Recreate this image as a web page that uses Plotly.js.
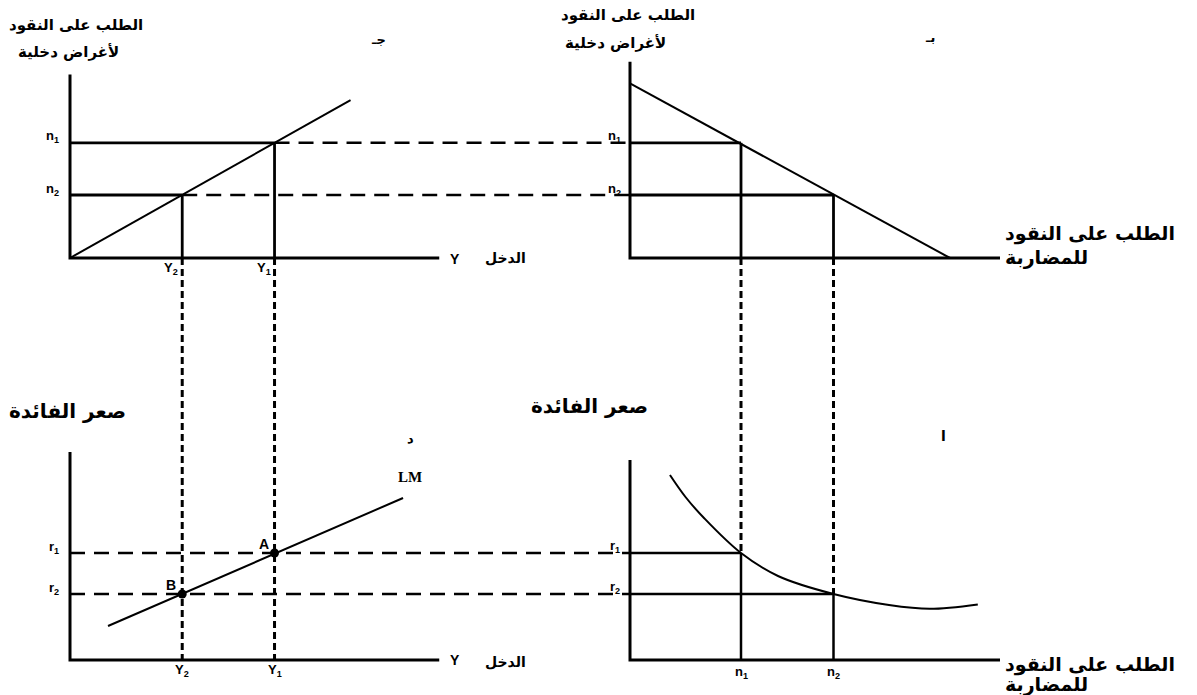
<!DOCTYPE html>
<html>
<head>
<meta charset="utf-8">
<script src="https://cdn.plot.ly/plotly-3.0.1.min.js"></script>
<style>html,body{margin:0;padding:0;background:#fff;}#chart{width:1197px;height:695px;}</style>
</head>
<body>
<div id="chart"></div>
<script>
// ---------------- DATA ----------------
// income levels Y2, Y1
const incomeLevels = [3.1, 5.65];
// transaction money demand n2, n1 (top row)
const transDemand = [3.5, 6.4];
// speculative money demand at those points n2, n1 (right column)
const specDemand = [5.5, 3.0];
// interest rates r2, r1 (bottom row)
const interestRates = [3.3, 5.35];

// panel ج : transaction demand line (income -> demand)
const transLineIncome = [0, 7.75];
const transLineDemand = [0, 8.77];
// panel ب : money split line (speculative -> transaction)
const splitLineSpec = [0, 8.65];
const splitLineTrans = [9.7, 0];
// panel د : LM curve (income -> interest)
const lmIncome = [1.05, 9.2];
const lmRate = [1.7, 8.1];
// panel ا : liquidity preference curve (speculative -> interest)
const liqSpec = [1.08, 1.5, 2.0, 3.0, 4.0, 5.5, 7.0, 8.1, 9.4];
const liqRate = [9.25, 8.15, 7.1, 5.35, 4.2, 3.3, 2.75, 2.56, 2.78];

// axis extents of each panel
const incomeAxisMax = 10.2, specAxisMax = 10;
const transAxisMaxLeft = 10.2, transAxisMaxRight = 10.9;
const rateAxisMaxLeft = 10.4, rateAxisMaxRight = 10;

// tick labels
const yLabels = ['Y<sub>2</sub>', 'Y<sub>1</sub>'];
const nLabels = ['n<sub>2</sub>', 'n<sub>1</sub>'];
const rLabels = ['r<sub>2</sub>', 'r<sub>1</sub>'];
const pointLabels = ['B', 'A'];

// ---------------- LAYOUT GEOMETRY ----------------
const W = 1197, H = 695;
const SX1 = {o: 70, s: 36.2};   // income axis (left column)
const SX2 = {o: 630, s: 37};    // speculative demand axis (right column)
const SY1 = {o: 258, s: 18};    // transaction demand axis (top row)
const SY2 = {o: 660, s: 20};    // interest axis (bottom row)
const xr = a => [(0 - a.o) / a.s, (W - a.o) / a.s];
const yr = a => [(a.o - H) / a.s, a.o / a.s];
const specToInc = v => (SX2.o + v * SX2.s - SX1.o) / SX1.s;
const transToRate = v => (SY2.o - (SY1.o - v * SY1.s)) / SY2.s;

const K = '#000';
function line(x, y, xa, ya, width, dash, shape) {
  return {x: x, y: y, xaxis: xa, yaxis: ya, mode: 'lines', type: 'scatter',
    line: {color: K, width: width, dash: dash || 'solid', shape: shape || 'linear', smoothing: 1},
    hoverinfo: 'skip', showlegend: false, connectgaps: false};
}
function seg(list) { // build null-separated path from [[x0,x1,y0,y1],...]
  const X = [], Y = [];
  list.forEach(s => { X.push(s[0], s[1], null); Y.push(s[2], s[3], null); });
  return {X, Y};
}

const traces = [];
const idx = [0, 1];
const LONG = '15px,9px', SHORT = '7px,4px';

// dashed connectors (drawn first)
let s = seg(idx.map(i => [incomeLevels[i], specToInc(0), transDemand[i], transDemand[i]]));
traces.push(line(s.X, s.Y, 'x', 'y', 2.5, LONG));
s = seg(idx.map(i => [0, specToInc(0), interestRates[i], interestRates[i]]));
traces.push(line(s.X, s.Y, 'x', 'y2', 2.5, LONG));
s = seg(idx.map(i => [incomeLevels[i], incomeLevels[i], transToRate(0), 0]));
traces.push(line(s.X, s.Y, 'x', 'y2', 3, SHORT));
s = seg(idx.map(i => [specDemand[i], specDemand[i], transToRate(0), interestRates[i]]));
traces.push(line(s.X, s.Y, 'x2', 'y2', 3, SHORT));

// solid connectors
s = seg([].concat(...idx.map(i => [[0, incomeLevels[i], transDemand[i], transDemand[i]],
  [incomeLevels[i], incomeLevels[i], transDemand[i], 0]])));
traces.push(line(s.X, s.Y, 'x', 'y', 2.8));
s = seg([].concat(...idx.map(i => [[0, specDemand[i], transDemand[i], transDemand[i]],
  [specDemand[i], specDemand[i], transDemand[i], 0]])));
traces.push(line(s.X, s.Y, 'x2', 'y', 2.8));
s = seg([].concat(...idx.map(i => [[0, specDemand[i], interestRates[i], interestRates[i]],
  [specDemand[i], specDemand[i], interestRates[i], 0]])));
traces.push(line(s.X, s.Y, 'x2', 'y2', 2.5));

// axes of each panel
traces.push(line([0, 0, incomeAxisMax], [transAxisMaxLeft, 0, 0], 'x', 'y', 3));
traces.push(line([0, 0, specAxisMax], [transAxisMaxRight, 0, 0], 'x2', 'y', 3));
traces.push(line([0, 0, incomeAxisMax], [rateAxisMaxLeft, 0, 0], 'x', 'y2', 3));
traces.push(line([0, 0, specAxisMax], [rateAxisMaxRight, 0, 0], 'x2', 'y2', 3));

// curves
traces.push(line(transLineIncome, transLineDemand, 'x', 'y', 2));
traces.push(line(splitLineSpec, splitLineTrans, 'x2', 'y', 2));
traces.push(line(lmIncome, lmRate, 'x', 'y2', 2));
traces.push(line(liqSpec, liqRate, 'x2', 'y2', 2, 'solid', 'spline'));

// points A, B
traces.push({x: incomeLevels, y: interestRates, xaxis: 'x', yaxis: 'y2', mode: 'markers',
  type: 'scatter', marker: {color: K, size: 9}, hoverinfo: 'skip', showlegend: false});

// ---------------- ANNOTATIONS ----------------
const AR = 'DejaVu Sans';
const LAT = 'Liberation Sans';
const ann = [];
function P(text, x, y, size, opts) {
  ann.push(Object.assign({text: text, xref: 'paper', yref: 'paper', x: x / W, y: 1 - y / H,
    showarrow: false, xanchor: 'center', yanchor: 'middle',
    font: {family: AR, size: size, color: K}}, opts || {}));
}
function D(text, x, y, xa, ya, opts, size, fam) {
  ann.push(Object.assign({text: text, xref: xa, yref: ya, x: x, y: y, showarrow: false,
    xanchor: 'center', yanchor: 'middle', font: {family: fam || LAT, size: size || 13, color: K}}, opts || {}));
}

// titles (top)
P('<b>الطلب على النقود</b>', 76, 25, 15);
P('<b>لأغراض دخلية</b>', 68, 52, 15);
P('<b>جـ</b>', 378, 40, 13);
P('<b>الطلب على النقود</b>', 628, 15, 15);
P('<b>لأغراض دخلية</b>', 615, 43, 15);
P('<b>بـ</b>', 930, 38, 13);
// axis-end labels
P('<b>Y</b>', 455, 259, 14, {font: {family: LAT, size: 14, color: K}});
P('<b>الدخل</b>', 505, 258, 14);
P('<b>Y</b>', 455, 660, 14, {font: {family: LAT, size: 14, color: K}});
P('<b>الدخل</b>', 505, 662, 14);
P('<b>الطلب على النقود</b>', 1003, 233, 19, {xanchor: 'left'});
P('<b>للمضاربة</b>', 1003, 257, 19, {xanchor: 'left'});
P('<b>الطلب على النقود</b>', 1003, 664, 19, {xanchor: 'left'});
P('<b>للمضاربة</b>', 1003, 684, 19, {xanchor: 'left'});
P('<b>صعر الفائدة</b>', 67, 411, 20);
P('<b>صعر الفائدة</b>', 589, 406, 20);
P('<b>د</b>', 410, 438, 13);
P('<b>ا</b>', 943, 436, 14);
P('<b>LM</b>', 410, 477, 15, {font: {family: 'Liberation Serif', size: 15, color: K}});

// tick-like labels placed with the data scales
idx.forEach(i => {
  D('<b>' + nLabels[i] + '</b>', 0, transDemand[i], 'x', 'y', {xanchor: 'right', xshift: -9, yshift: 6});
  D('<b>' + nLabels[i] + '</b>', 0, transDemand[i], 'x2', 'y', {xanchor: 'right', xshift: -7, yshift: 6});
  D('<b>' + yLabels[i] + '</b>', incomeLevels[i], 0, 'x', 'y', {xanchor: 'right', xshift: -2, yshift: -10});
  D('<b>' + yLabels[i] + '</b>', incomeLevels[i], 0, 'x', 'y2', {yshift: -10});
  D('<b>' + rLabels[i] + '</b>', 0, interestRates[i], 'x', 'y2', {xanchor: 'right', xshift: -9, yshift: 6});
  D('<b>' + rLabels[i] + '</b>', 0, interestRates[i], 'x2', 'y2', {xanchor: 'right', xshift: -8, yshift: 7});
  D('<b>' + nLabels[i] + '</b>', specDemand[i], 0, 'x2', 'y2', {yshift: -12});
  D('<b>' + pointLabels[i] + '</b>', incomeLevels[i], interestRates[i], 'x', 'y2',
    {xanchor: 'right', xshift: -4, yshift: 9}, 14);
});

const ax = {visible: false, showgrid: false, zeroline: false, fixedrange: true};
const layout = {
  width: W, height: H, margin: {l: 0, r: 0, t: 0, b: 0},
  paper_bgcolor: '#fff', plot_bgcolor: '#fff', showlegend: false,
  xaxis: Object.assign({range: xr(SX1), domain: [0, 1]}, ax),
  xaxis2: Object.assign({range: xr(SX2), overlaying: 'x'}, ax),
  yaxis: Object.assign({range: yr(SY1), domain: [0, 1]}, ax),
  yaxis2: Object.assign({range: yr(SY2), overlaying: 'y'}, ax),
  annotations: ann
};
Plotly.newPlot('chart', traces, layout, {staticPlot: true, displayModeBar: false});
</script>
</body>
</html>
